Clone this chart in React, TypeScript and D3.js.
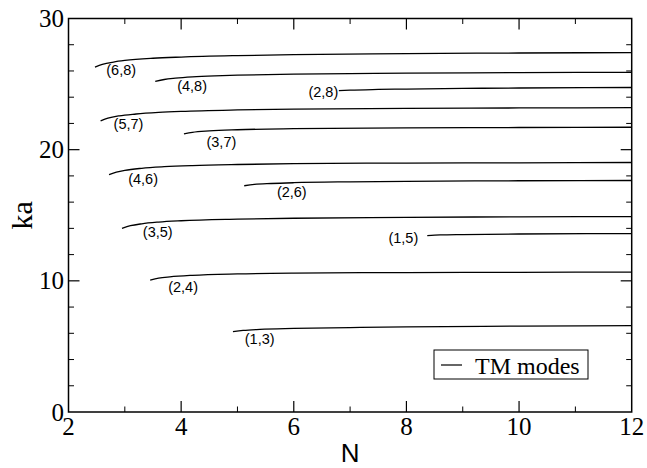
import React from "react";
import * as d3 from "d3";

const xTicks = [2, 4, 6, 8, 10, 12];
const yTicks = [0, 10, 20, 30];
const xMinor = [3, 5, 7, 9, 11];
const yMinor = [2, 4, 6, 8, 12, 14, 16, 18, 22, 24, 26, 28];

const m68: [number, number][] = [[2.47,26.3],[2.6,26.5],[2.8,26.68],[3.0,26.8],[3.5,26.97],[4,27.06],[5,27.17],[6,27.24],[8,27.32],[10,27.37],[12,27.4]];
const m48: [number, number][] = [[3.54,25.2],[3.7,25.35],[3.9,25.45],[4.2,25.55],[4.6,25.63],[5,25.68],[6,25.76],[7,25.8],[8,25.83],[10,25.87],[12,25.9]];
const m28: [number, number][] = [[6.8,24.5],[7,24.54],[7.5,24.59],[8,24.62],[9,24.67],[10,24.7],[12,24.74]];
const m57: [number, number][] = [[2.57,22.2],[2.7,22.4],[2.9,22.58],[3.2,22.72],[3.6,22.84],[4,22.92],[5,23.03],[6,23.09],[8,23.15],[10,23.18],[12,23.2]];
const m37: [number, number][] = [[4.05,21.2],[4.2,21.32],[4.5,21.43],[5,21.52],[6,21.6],[8,21.66],[10,21.69],[12,21.71]];
const m46: [number, number][] = [[2.72,18.1],[2.85,18.28],[3.0,18.42],[3.3,18.58],[3.7,18.7],[4.2,18.79],[5,18.87],[6,18.93],[8,18.98],[10,19.0],[12,19.02]];
const m26: [number, number][] = [[5.12,17.25],[5.3,17.35],[5.6,17.42],[6,17.48],[7,17.55],[8,17.59],[10,17.63],[12,17.65]];
const m35: [number, number][] = [[2.95,14.0],[3.1,14.2],[3.3,14.35],[3.6,14.48],[4,14.58],[5,14.7],[6,14.77],[8,14.84],[10,14.88],[12,14.9]];
const m15: [number, number][] = [[8.37,13.45],[8.6,13.5],[9,13.53],[10,13.57],[12,13.6]];
const m24: [number, number][] = [[3.45,10.06],[3.6,10.2],[3.8,10.3],[4.2,10.42],[5,10.53],[6,10.59],[8,10.63],[10,10.65],[12,10.67]];
const m13: [number, number][] = [[4.92,6.12],[5.1,6.22],[5.4,6.3],[6,6.37],[7,6.44],[8,6.49],[10,6.55],[12,6.58]];

const curves = [m68, m48, m28, m57, m37, m46, m26, m35, m15, m24, m13];

// mode labels: text, N, ka, anchor
const labelTexts = ["(6,8)", "(4,8)", "(2,8)", "(5,7)", "(3,7)", "(4,6)", "(2,6)", "(3,5)", "(1,5)", "(2,4)", "(1,3)"];
const labelN = [2.67, 3.93, 6.79, 2.8, 4.45, 3.06, 5.7, 3.32, 7.68, 3.77, 5.13];
const labelKa = [25.7, 24.5, 24.0, 21.55, 20.2, 17.4, 16.4, 13.35, 12.9, 9.12, 5.2];
const labelAnchor = ["start", "start", "end", "start", "start", "start", "start", "start", "start", "start", "start"];

const legendLabel = "TM modes";

export default function App() {
  const W = 647, H = 468;
  const left = 68.5, right = 631.7, top = 18.5, bottom = 412;
  const x = d3.scaleLinear().domain([2, 12]).range([left, right]);
  const y = d3.scaleLinear().domain([0, 30]).range([bottom, top]);
  const line = d3.line<[number, number]>().x(d => x(d[0])).y(d => y(d[1])).curve(d3.curveMonotoneX);
  const serif = { fontFamily: '"Liberation Serif", "DejaVu Serif", Times, serif' };
  const sans = { fontFamily: '"Liberation Sans", Arial, sans-serif' };
  return (
    <svg width={W} height={H} style={{ position: "absolute", left: 0, top: 0, background: "#fff" }}>
      <rect x={0} y={0} width={W} height={H} fill="#fff" />
      {curves.map((c, i) => (
        <path key={i} d={line(c) || ""} fill="none" stroke="#000" strokeWidth={1.3} />
      ))}
      {labelTexts.map((t, i) => (
        <text key={i} x={x(labelN[i])} y={y(labelKa[i])} style={sans} fontSize={14.5}
          textAnchor={labelAnchor[i] as any} fill="#000">{t}</text>
      ))}
      <rect x={left} y={top} width={right - left} height={bottom - top} fill="none" stroke="#000" strokeWidth={1.5} />
      {xTicks.slice(1, -1).map(t => (
        <g key={"xt" + t}>
          <line x1={x(t)} x2={x(t)} y1={bottom} y2={bottom - 11} stroke="#000" strokeWidth={1.2} />
          <line x1={x(t)} x2={x(t)} y1={top} y2={top + 11} stroke="#000" strokeWidth={1.2} />
        </g>
      ))}
      {xMinor.map(t => (
        <g key={"xm" + t}>
          <line x1={x(t)} x2={x(t)} y1={bottom} y2={bottom - 5.5} stroke="#000" strokeWidth={1} />
          <line x1={x(t)} x2={x(t)} y1={top} y2={top + 5.5} stroke="#000" strokeWidth={1} />
        </g>
      ))}
      {yTicks.slice(1, -1).map(t => (
        <g key={"yt" + t}>
          <line x1={left} x2={left + 11} y1={y(t)} y2={y(t)} stroke="#000" strokeWidth={1.2} />
          <line x1={right} x2={right - 11} y1={y(t)} y2={y(t)} stroke="#000" strokeWidth={1.2} />
        </g>
      ))}
      {yMinor.map(t => (
        <g key={"ym" + t}>
          <line x1={left} x2={left + 5.5} y1={y(t)} y2={y(t)} stroke="#000" strokeWidth={1} />
          <line x1={right} x2={right - 5.5} y1={y(t)} y2={y(t)} stroke="#000" strokeWidth={1} />
        </g>
      ))}
      {xTicks.map(t => (
        <text key={"xl" + t} x={x(t)} y={435} textAnchor="middle" style={serif} fontSize={25} fill="#000">{t}</text>
      ))}
      {yTicks.map(t => (
        <text key={"yl" + t} x={64} y={y(t) + 8.5} textAnchor="end" style={serif} fontSize={25} fill="#000">{t}</text>
      ))}
      <text x={(left + right) / 2} y={462} textAnchor="middle" style={sans} fontSize={26} fill="#000">N</text>
      <text transform={`translate(32,${(top + bottom) / 2}) rotate(-90)`} textAnchor="middle" style={serif} fontSize={30} fill="#000">ka</text>
      <rect x={434} y={350} width={154} height={29} fill="#fff" stroke="#000" strokeWidth={1} />
      <line x1={441} x2={462} y1={365} y2={365} stroke="#000" strokeWidth={1.2} />
      <text x={475} y={373.5} style={serif} fontSize={24} fill="#000">{legendLabel}</text>
    </svg>
  );
}
